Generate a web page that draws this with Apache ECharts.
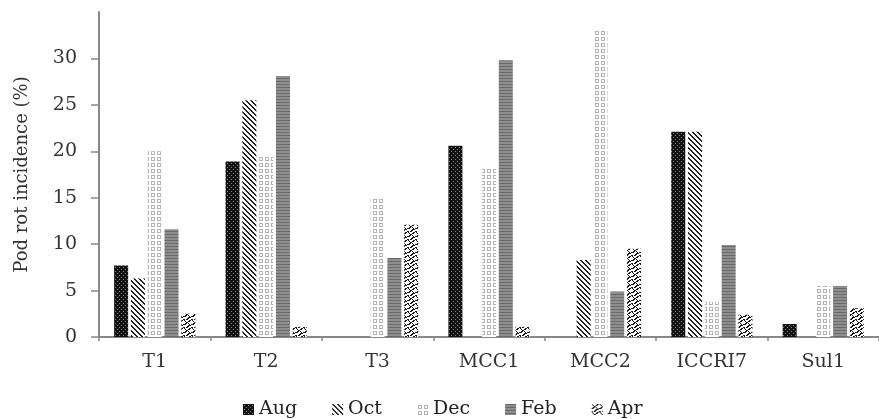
<!DOCTYPE html>
<html>
<head>
<meta charset="utf-8">
<script src="https://cdn.jsdelivr.net/npm/echarts@6/dist/echarts.min.js"></script>
<style>
html,body{margin:0;padding:0;background:#fff;}
#c{width:879px;height:419px;}
</style>
</head>
<body>
<div id="c"></div>
<script>
const categories = ['T1', 'T2', 'T3', 'MCC1', 'MCC2', 'ICCRI7', 'Sul1'];
const seriesNames = ['Aug', 'Oct', 'Dec', 'Feb', 'Apr'];
const aug = [7.7, 18.9, 0, 20.6, 0, 22.1, 1.4];
const oct = [6.3, 25.5, 0, 0, 8.3, 22.1, 0];
const dec = [20.0, 19.4, 14.9, 18.3, 33.1, 3.8, 5.5];
const feb = [11.6, 28.1, 8.5, 29.8, 4.9, 9.9, 5.5];
const apr = [2.5, 1.1, 12.1, 1.1, 9.5, 2.4, 3.1];
const yTicks = [0, 5, 10, 15, 20, 25, 30];

function makePattern(w, h, fn) {
  const cv = document.createElement('canvas');
  cv.width = w; cv.height = h;
  const ctx = cv.getContext('2d');
  for (let y = 0; y < h; y++) {
    for (let x = 0; x < w; x++) {
      ctx.fillStyle = fn(x, y);
      ctx.fillRect(x, y, 1, 1);
    }
  }
  return { image: cv, repeat: 'repeat' };
}
const patAug = makePattern(4, 4, (x, y) => ((x === 1 && y === 1) || (x === 3 && y === 3)) ? '#8a8a8a' : '#111');
const patOct = makePattern(5, 5, (x, y) => ((((x - y) % 5) + 5) % 5 < 2) ? '#222' : '#fff');
const patDec = makePattern(6, 6, (x, y) => {
  const dx = x - 2.5, dy = y - 2.5, r = Math.sqrt(dx * dx + dy * dy);
  return (r > 1.2 && r < 2.4) ? '#b4b4b4' : '#fff';
});
const patFeb = makePattern(2, 3, (x, y) => y === 0 ? '#6a6a6a' : '#8e8e8e');
const aprMap = [
  '10000110',
  '01001100',
  '00110000',
  '01101000',
  '11000101',
  '00001110',
  '00011000',
  '10110001'
];
const patApr = makePattern(8, 8, (x, y) => aprMap[y][x] === '1' ? '#1a1a1a' : '#fff');

const dataSets = [aug, oct, dec, feb, apr];
const patterns = [patAug, patOct, patDec, patFeb, patApr];
const font = 'DejaVu Serif, Liberation Serif, serif';

const series = seriesNames.map((n, i) => ({
  name: n,
  type: 'bar',
  data: dataSets[i],
  barWidth: 14,
  barGap: '20%',
  itemStyle: { color: patterns[i] }
}));

const chart = echarts.init(document.getElementById('c'));
chart.setOption({
  animation: false,
  backgroundColor: '#fff',
  grid: { left: 99, right: -7, top: 12, bottom: 82 },
  legend: {
    data: seriesNames,
    left: 238,
    top: 395,
    itemWidth: 11,
    itemHeight: 11,
    itemGap: 35,
    icon: 'rect',
    textStyle: { fontFamily: font, fontSize: 19, color: '#222' }
  },
  xAxis: {
    type: 'category',
    data: categories,
    axisLine: { lineStyle: { color: '#888', width: 2 } },
    axisTick: { show: true, length: 4, lineStyle: { color: '#888', width: 1.5 } },
    axisLabel: { fontFamily: font, fontSize: 19, color: '#333', margin: 16 }
  },
  yAxis: {
    type: 'value',
    min: 0,
    max: 35,
    interval: 5,
    name: 'Pod rot incidence (%)',
    nameLocation: 'middle',
    nameGap: 68,
    nameTextStyle: { fontFamily: font, fontSize: 18, color: '#333' },
    axisLine: { show: true, lineStyle: { color: '#888', width: 2 } },
    axisTick: { show: true, length: 8, customValues: yTicks, lineStyle: { color: '#888', width: 1.5 } },
    axisLabel: { fontFamily: font, fontSize: 19, color: '#333', margin: 22, customValues: yTicks },
    splitLine: { show: false }
  },
  series: series
});
</script>
</body>
</html>
